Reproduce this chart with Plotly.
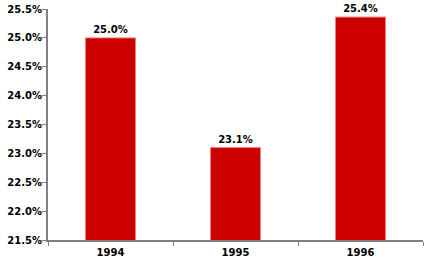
import plotly.graph_objects as go

years = ["1994", "1995", "1996"]
values = [25.0, 23.1, 25.36]
labels = ["25.0%", "23.1%", "25.4%"]
y_ticks = [21.5, 22.0, 22.5, 23.0, 23.5, 24.0, 24.5, 25.0, 25.5]
y_tick_text = ["21.5%", "22.0%", "22.5%", "23.0%", "23.5%", "24.0%", "24.5%", "25.0%", "25.5%"]

font_family = "DejaVu Sans"

fig = go.Figure(go.Bar(
    x=years, y=values, text=labels, textposition="outside",
    textfont=dict(family=font_family, size=10, color="black", weight="bold"),
    marker=dict(color="#CC0000", line=dict(color="#F08080", width=1)),
    width=0.4, cliponaxis=False,
))

fig.update_layout(
    width=427, height=262,
    margin=dict(l=48, r=4, t=9, b=22),
    paper_bgcolor="white", plot_bgcolor="white",
    showlegend=False,
    font=dict(family=font_family, size=10, color="black", weight="bold"),
)
fig.update_yaxes(
    range=[21.5, 25.5], tickvals=y_ticks, ticktext=y_tick_text,
    showgrid=False, zeroline=False,
    showline=True, linecolor="#808080", linewidth=2,
    ticks="outside", ticklen=4, tickcolor="#808080", tickwidth=1,
    ticklabelstandoff=-2,
    tickfont=dict(family=font_family, size=10, color="black", weight="bold"),
)
fig.update_xaxes(
    showgrid=False, showline=True, linecolor="#808080", linewidth=2,
    ticks="outside", tickson="boundaries", ticklen=4, tickcolor="#808080", tickwidth=1,
    ticklabelstandoff=2,
    tickfont=dict(family=font_family, size=10, color="black", weight="bold"),
)

fig.write_html("out.html")
